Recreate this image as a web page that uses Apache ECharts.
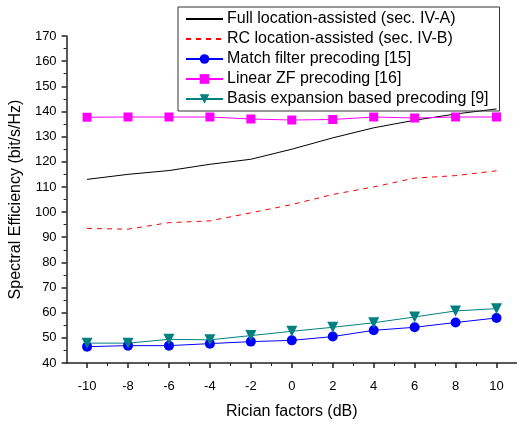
<!DOCTYPE html>
<html>
<head>
<meta charset="utf-8">
<script src="https://cdn.jsdelivr.net/npm/echarts@6/dist/echarts.min.js"></script>
<style>
  html, body { margin: 0; padding: 0; background: #fff; }
  #chart { width: 517px; height: 425px; }
</style>
</head>
<body>
<div id="chart"></div>
<script>
// Rician factor (dB)
var ricianDb = [-10, -8, -6, -4, -2, 0, 2, 4, 6, 8, 10];
var xMajorTicks = [-10, -8, -6, -4, -2, 0, 2, 4, 6, 8, 10];
var xMinorTicks = [-9, -7, -5, -3, -1, 1, 3, 5, 7, 9, 11];

var fullLoc = [113, 115, 116.5, 119, 121, 125, 129.5, 133.5, 136.5, 139, 141];
var rcLoc = [93.5, 93.2, 95.8, 96.5, 99.7, 103, 107, 110, 113.5, 114.5, 116.4];
var matchFilter = [46.5, 46.9, 46.9, 47.7, 48.5, 49.0, 50.5, 53.0, 54.2, 56.1, 57.9];
var linearZF = [137.7, 137.8, 137.8, 137.8, 137.0, 136.6, 136.8, 137.8, 137.4, 137.8, 137.8];
var basisExp = [47.9, 47.9, 49.4, 49.2, 50.9, 52.6, 54.2, 56.0, 58.3, 60.7, 61.6];

var names = [
  "Full location-assisted (sec. IV-A)",
  "RC location-assisted (sec. IV-B)",
  "Match filter precoding [15]",
  "Linear ZF precoding [16]",
  "Basis expansion based precoding [9]"
];

function pairs(vals) {
  var out = [];
  for (var i = 0; i < ricianDb.length; i++) out.push([ricianDb[i], vals[i]]);
  return out;
}

var font = "Liberation Sans, Arial, sans-serif";
var myChart = echarts.init(document.getElementById("chart"));

var noMark = { color: "rgba(0,0,0,0)", borderWidth: 0 };

var option = {
  animation: false,
  textStyle: { fontFamily: font },
  grid: { left: 61, right: 0, top: 36, bottom: 55, containLabel: false },
  legend: {
    orient: "vertical",
    left: 178,
    top: 7,
    padding: [4, 11, 4, 7],
    itemWidth: 37,
    itemHeight: 12,
    itemGap: 4,
    borderColor: "#333",
    borderWidth: 1,
    textStyle: { fontSize: 16, color: "#000", fontFamily: font, padding: [0, 0, 0, -1] },
    data: [
      { name: names[0], itemStyle: noMark },
      { name: names[1], itemStyle: noMark },
      { name: names[2] },
      { name: names[3] },
      { name: names[4] }
    ]
  },
  xAxis: [
    {
      type: "value",
      min: -11,
      max: 11,
      name: "Rician factors (dB)",
      nameLocation: "middle",
      nameGap: 41,
      nameTextStyle: { fontSize: 16, color: "#000", fontFamily: font },
      axisLine: { onZero: false, lineStyle: { color: "#222", width: 1.5 } },
      axisTick: { show: true, length: 5, customValues: xMajorTicks, lineStyle: { color: "#222", width: 1.5 } },
      axisLabel: { customValues: xMajorTicks, fontSize: 13, color: "#000", margin: 17, fontFamily: font },
      splitLine: { show: false }
    },
    {
      type: "value",
      min: -11,
      max: 11,
      position: "bottom",
      axisLine: { show: false, onZero: false },
      axisTick: { show: true, length: 3, customValues: xMinorTicks, lineStyle: { color: "#222", width: 1 } },
      axisLabel: { show: false },
      splitLine: { show: false }
    }
  ],
  yAxis: {
    type: "value",
    min: 40,
    max: 170,
    interval: 10,
    name: "Spectral Efficiency (bit/s/Hz)",
    nameLocation: "middle",
    nameGap: 40,
    nameTextStyle: { fontSize: 16, color: "#000", fontFamily: font },
    axisLine: { show: true, onZero: false, lineStyle: { color: "#222", width: 1.5 } },
    axisTick: { show: true, length: 5, lineStyle: { color: "#222", width: 1.5 } },
    minorTick: { show: true, splitNumber: 2, length: 3, lineStyle: { color: "#222", width: 1 } },
    axisLabel: { fontSize: 13, color: "#000", margin: 10, fontFamily: font },
    splitLine: { show: false }
  },
  series: [
    {
      name: names[0],
      type: "line",
      data: pairs(fullLoc),
      symbol: "none",
      lineStyle: { color: "#000", width: 1 },
      itemStyle: { color: "#000" }
    },
    {
      name: names[1],
      type: "line",
      data: pairs(rcLoc),
      symbol: "none",
      lineStyle: { color: "#ff0000", width: 1, type: [5, 5] },
      itemStyle: { color: "#ff0000" }
    },
    {
      name: names[2],
      type: "line",
      data: pairs(matchFilter),
      symbol: "circle",
      symbolSize: 10,
      lineStyle: { color: "#0000ff", width: 1 },
      itemStyle: { color: "#0000ff" }
    },
    {
      name: names[3],
      type: "line",
      data: pairs(linearZF),
      symbol: "rect",
      symbolSize: 9,
      lineStyle: { color: "#ff00ff", width: 1 },
      itemStyle: { color: "#ff00ff" }
    },
    {
      name: names[4],
      type: "line",
      data: pairs(basisExp),
      symbol: "triangle",
      symbolRotate: 180,
      symbolSize: 11,
      lineStyle: { color: "#008080", width: 1 },
      itemStyle: { color: "#008080" }
    }
  ]
};

myChart.setOption(option);
</script>
</body>
</html>
